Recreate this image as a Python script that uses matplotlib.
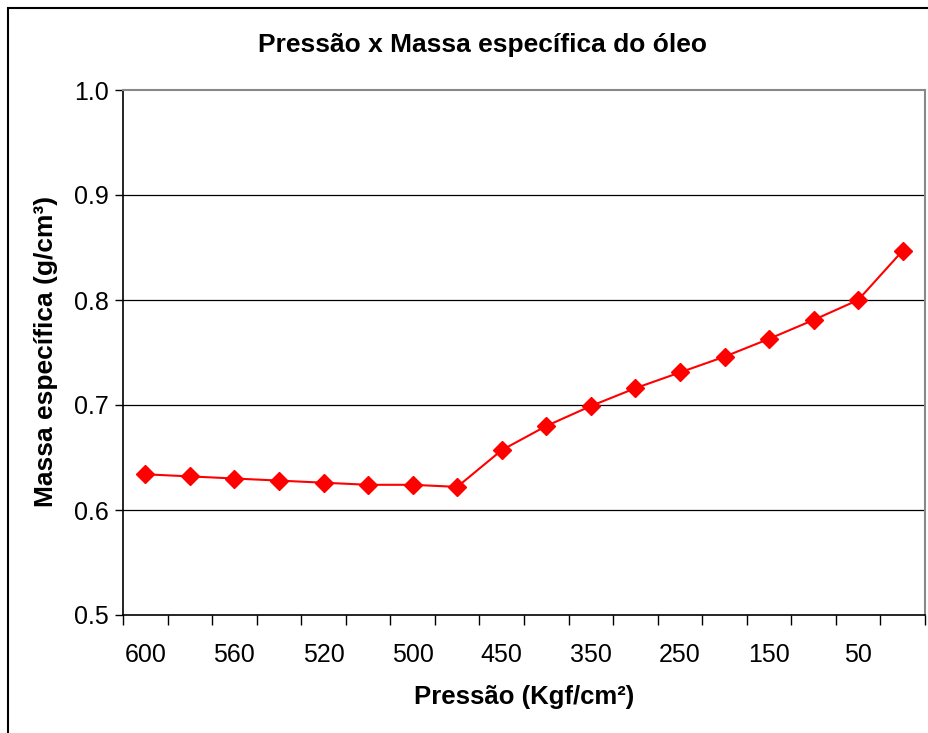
import matplotlib
matplotlib.use('Agg')
import matplotlib.pyplot as plt
from matplotlib.patches import Rectangle
import numpy as np

plt.rcParams['font.family'] = ['Liberation Sans', 'DejaVu Sans']

# pressure steps (Kgf/cm2) and measured oil density (g/cm3)
pressao = ['600', '580', '560', '540', '520', '510', '500', '480', '450',
           '400', '350', '300', '250', '200', '150', '100', '50', '0']
massa = [0.634, 0.632, 0.630, 0.628, 0.626, 0.624, 0.624, 0.622, 0.657,
         0.680, 0.699, 0.716, 0.731, 0.746, 0.763, 0.781, 0.800, 0.847]
yticks = [0.5, 0.6, 0.7, 0.8, 0.9, 1.0]

W, H = 929, 733
fig = plt.figure(figsize=(W / 100, H / 100), dpi=100)

# chart frame (runs off the right and bottom edges)
fig.patches.append(Rectangle((8 / W, -0.1), 1.1, 1 - 8 / H + 0.1,
                             transform=fig.transFigure, fill=False,
                             edgecolor='black', linewidth=1.5))

left, right, top, bottom = 123, 925, 90, 615
ax = fig.add_axes([left / W, 1 - bottom / H, (right - left) / W, (bottom - top) / H])

x = np.arange(len(pressao))
ax.plot(x, massa, color='#ff0000', linewidth=1.5, marker='D', markersize=9.5,
        markeredgecolor='#ff0000', zorder=3)

ax.set_xlim(-0.5, len(pressao) - 0.5)
ax.set_ylim(0.5, 1.0)
ax.set_yticks(yticks)
ax.set_yticklabels(['%.1f' % v for v in yticks], fontsize=18)
for v in yticks[1:-1]:
    ax.axhline(v, color='black', linewidth=0.9, zorder=1)

# category ticks sit between points, labels on every other point
ax.set_xticks(np.arange(len(pressao) + 1) - 0.5)
ax.set_xticklabels([])
ax.set_xticks(x[::2], minor=True)
ax.set_xticklabels(pressao[::2], minor=True, fontsize=18)
ax.tick_params(axis='x', which='major', direction='out', length=7, width=1)
ax.tick_params(axis='x', which='minor', length=0, pad=20)
ax.tick_params(axis='y', direction='out', length=6, width=1, pad=4)

for s in ['left', 'bottom']:
    ax.spines[s].set_color('black')
    ax.spines[s].set_linewidth(1.2)
for s in ['top', 'right']:
    ax.spines[s].set_color('#888888')
    ax.spines[s].set_linewidth(1.5)

fig.text(483 / W, 1 - 45 / H, 'Pressão x Massa específica do óleo',
         ha='center', va='center', fontsize=19, fontweight='bold')
fig.text(524 / W, 1 - 697 / H, 'Pressão (Kgf/cm²)',
         ha='center', va='center', fontsize=18.5, fontweight='bold')
fig.text(46 / W, 1 - 351 / H, 'Massa específica (g/cm³)',
         ha='center', va='center', rotation=90, fontsize=19, fontweight='bold')

fig.savefig('out.png', dpi=100)
